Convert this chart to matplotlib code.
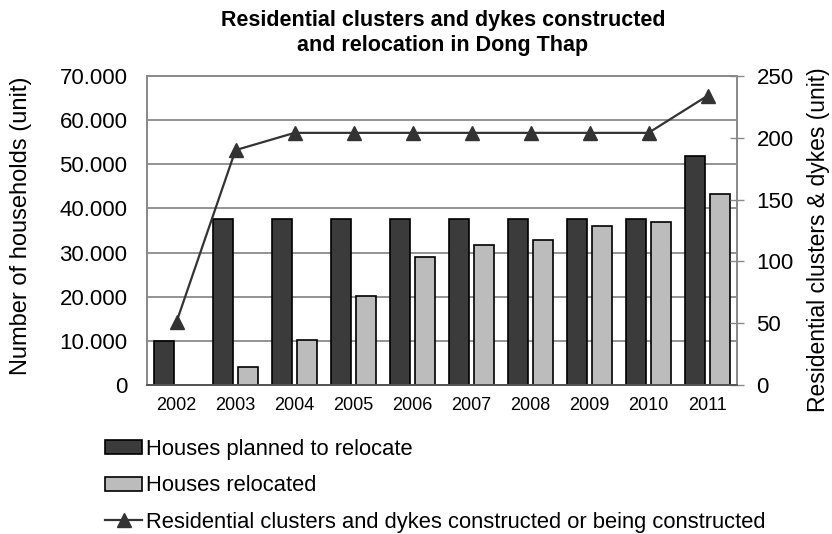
import matplotlib
matplotlib.use("Agg")
import matplotlib.pyplot as plt
from matplotlib.ticker import FuncFormatter
import numpy as np

plt.rcParams["font.family"] = ["Liberation Sans", "DejaVu Sans"]

years = ["2002", "2003", "2004", "2005", "2006", "2007", "2008", "2009", "2010", "2011"]
planned = [10000, 37600, 37600, 37600, 37600, 37600, 37600, 37600, 37600, 51800]
relocated = [0, 4000, 10200, 20100, 29000, 31800, 32900, 36000, 37000, 43200]
clusters = [51, 190, 204, 204, 204, 204, 204, 204, 204, 234]

title = "Residential clusters and dykes constructed\nand relocation in Dong Thap"
left_label = "Number of households (unit)"
right_label = "Residential clusters & dykes (unit)"
legend_labels = [
    "Houses planned to relocate",
    "Houses relocated",
    "Residential clusters and dykes constructed or being constructed",
]

W, H = 832, 534
fig = plt.figure(figsize=(W / 100, H / 100), dpi=100)
ax = fig.add_axes([147 / W, 1 - 385 / H, 590 / W, 309 / H])
ax2 = ax.twinx()

x = np.arange(len(years))
bw = 0.34
off = 0.21
grid_c = "#8a8a8a"

b1 = ax.bar(x - off, planned, bw, color="#3b3b3b", edgecolor="black", linewidth=1.2)
b2 = ax.bar(x + off, relocated, bw, color="#bcbcbc", edgecolor="black", linewidth=1.2)

ax.set_xlim(-0.5, len(years) - 0.5)
ax.set_ylim(0, 70000)
ax.set_yticks(np.arange(0, 70001, 10000))
ax.yaxis.set_major_formatter(
    FuncFormatter(lambda v, p: "0" if v == 0 else f"{int(v):,}".replace(",", "."))
)
ax.set_axisbelow(True)
ax.yaxis.grid(True, color=grid_c, linewidth=1.3)
ax.set_xticks(x)
ax.set_xticklabels(years)
ax.tick_params(axis="x", length=0, pad=9, labelsize=13)
ax.tick_params(axis="y", length=0, pad=14, labelsize=16)

(ln,) = ax2.plot(x, clusters, color="#333333", linewidth=1.6, marker="^",
                 markersize=9.5, markerfacecolor="#333333", markeredgecolor="#333333")
ax2.set_ylim(0, 250)
ax2.set_yticks(np.arange(0, 251, 50))
ax2.tick_params(axis="y", direction="inout", length=10, width=1, color=grid_c,
                pad=9, labelsize=16)

for a in (ax, ax2):
    for s in a.spines.values():
        s.set_color(grid_c)
        s.set_linewidth(1.3)
    a.spines["bottom"].set_color("#555555")

fig.text(443 / W, 1 - 33 / H, title, ha="center", va="center",
         fontsize=15.5, fontweight="bold", linespacing=1.2)
fig.text(21 / W, 1 - 226 / H, left_label, rotation=90, ha="center", va="center", fontsize=17)
fig.text(819 / W, 1 - 240 / H, right_label, rotation=90, ha="center", va="center", fontsize=16.5)

fig.legend([b1, b2, ln], legend_labels, loc="upper left",
           bbox_to_anchor=(105 / W, 1 - 439 / H), frameon=False, fontsize=15.8,
           handlelength=1.7, handleheight=0.6, handletextpad=0.15,
           labelspacing=0.7, borderpad=0, borderaxespad=0)

fig.savefig("out.png", dpi=100)
